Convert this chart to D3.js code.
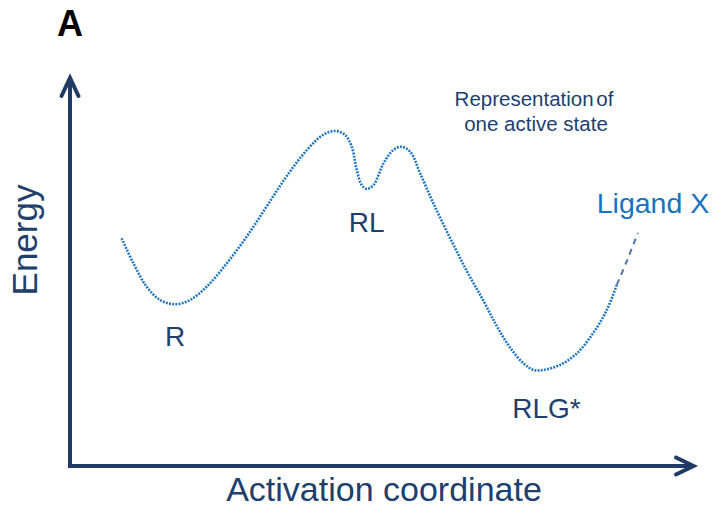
<!DOCTYPE html>
<html>
<head>
<meta charset="utf-8">
<script src="https://cdn.jsdelivr.net/npm/d3@7"></script>
<style>
  html, body { margin: 0; padding: 0; background: #fff; }
  svg { display: block; font-family: "Liberation Sans", Arial, sans-serif; }
</style>
</head>
<body>
<svg id="chart" width="716" height="507"></svg>
<script>
// Activation coordinate (0-100) and energy (0-100), arbitrary units
const coordinate = [8.3, 10.2, 12.3, 14.5, 16.9, 19.3, 22.0, 25.2, 28.4, 31.6, 34.8, 38.1, 40.7, 42.6, 44.2, 45.3, 46.1, 46.9, 47.7, 48.8, 50.4, 52.0, 53.3, 54.7, 56.3, 58.4, 61.1, 63.8, 66.5, 68.6, 70.7, 72.9, 74.5, 76.1, 78.8, 81.5, 84.1, 86.3, 87.9];
const energy     = [59.0, 52.5, 46.5, 43.0, 41.9, 43.0, 46.5, 52.5, 59.4, 67.2, 75.0, 81.9, 85.8, 86.8, 85.8, 82.7, 76.7, 72.8, 71.8, 72.8, 78.4, 81.9, 82.7, 81.4, 75.8, 68.1, 59.1, 50.5, 42.7, 36.3, 30.8, 26.6, 24.9, 24.9, 26.2, 29.2, 34.4, 40.4, 46.9];
// Extension toward Ligand X (dashed)
const extCoordinate = [87.9, 89.6, 91.3];
const extEnergy     = [46.9, 53.4, 60.4];
// State labels
const stateNames  = ["R", "RL", "RLG*"];
const stateCoord  = [16.9, 47.7, 76.6];
const stateEnergy = [31.0, 60.5, 12.5];

const svg = d3.select("#chart");
const x = d3.scaleLinear().domain([0, 100]).range([70, 692]);
const y = d3.scaleLinear().domain([0, 100]).range([466, 80]);

const axisColor = "#1f3b66";
const textColor = "#203f6d";

// Axes
svg.append("line").attr("x1", x(0)).attr("y1", y(0) + 2).attr("x2", x(0)).attr("y2", y(100) - 2)
  .attr("stroke", axisColor).attr("stroke-width", 4);
svg.append("line").attr("x1", x(0) - 2).attr("y1", y(0)).attr("x2", x(100) + 0).attr("y2", y(0))
  .attr("stroke", axisColor).attr("stroke-width", 4);
// arrowheads
svg.append("path")
  .attr("d", `M${x(0) - 8.5},${y(100) + 16} L${x(0)},${y(100) - 2} L${x(0) + 8.5},${y(100) + 16}`)
  .attr("fill", "none").attr("stroke", axisColor).attr("stroke-width", 4).attr("stroke-linecap", "round").attr("stroke-linejoin", "miter");
svg.append("path")
  .attr("d", `M${x(100) - 16},${y(0) - 8.5} L${x(100) + 1.5},${y(0)} L${x(100) - 16},${y(0) + 8.5}`)
  .attr("fill", "none").attr("stroke", axisColor).attr("stroke-width", 4).attr("stroke-linecap", "round").attr("stroke-linejoin", "miter");

// Curve
const line = d3.line().x(d => x(d[0])).y(d => y(d[1])).curve(d3.curveCatmullRom.alpha(0.5));
const pts = coordinate.map((c, i) => [c, energy[i]]);
svg.append("path").attr("d", line(pts))
  .attr("fill", "none").attr("stroke", "#1e74c4").attr("stroke-width", 2.6)
  .attr("stroke-dasharray", "1.9 1.3");
const ext = extCoordinate.map((c, i) => [c, extEnergy[i]]);
svg.append("path").attr("d", line(ext))
  .attr("fill", "none").attr("stroke", "#5274b0").attr("stroke-width", 2)
  .attr("stroke-dasharray", "6 5");

// State labels
svg.selectAll("text.state").data(stateNames).enter().append("text")
  .attr("class", "state")
  .attr("x", (d, i) => x(stateCoord[i])).attr("y", (d, i) => y(stateEnergy[i]))
  .attr("text-anchor", "middle").attr("font-size", 28).attr("fill", textColor)
  .text(d => d);

// Annotation
svg.append("text").attr("x", 534).attr("y", 106).attr("text-anchor", "middle")
  .attr("font-size", 20.5).attr("fill", textColor).attr("word-spacing", -3).text("Representation of");
svg.append("text").attr("x", 536).attr("y", 131).attr("text-anchor", "middle")
  .attr("font-size", 20.5).attr("fill", textColor).text("one active state");
svg.append("text").attr("x", 653).attr("y", 213).attr("text-anchor", "middle")
  .attr("font-size", 28.5).attr("fill", "#1a72c0").text("Ligand X");

// Axis titles
svg.append("text").attr("x", 384).attr("y", 501).attr("text-anchor", "middle")
  .attr("font-size", 34).attr("fill", textColor).text("Activation coordinate");
svg.append("text").attr("transform", "translate(37,240) rotate(-90)").attr("text-anchor", "middle")
  .attr("font-size", 35).attr("fill", textColor).text("Energy");

// Panel letter
svg.append("text").attr("x", 57).attr("y", 36).attr("font-size", 36).attr("font-weight", "bold")
  .attr("fill", "#000").text("A");
</script>
</body>
</html>
